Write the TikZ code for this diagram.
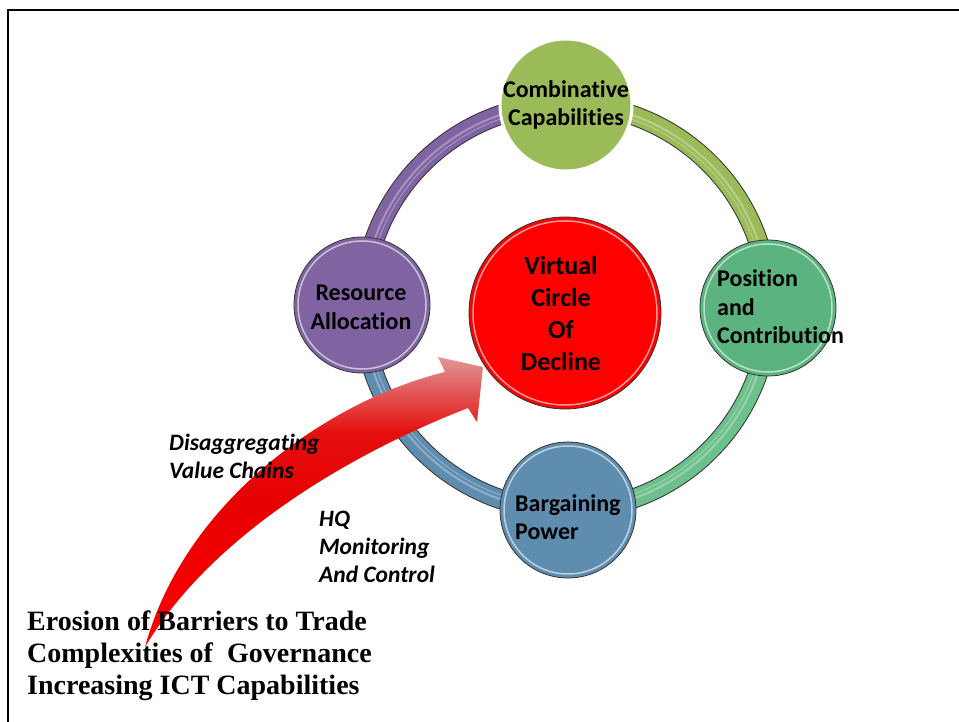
\documentclass[tikz,border=0pt]{standalone}
\usepackage{fontspec}
\setmainfont{Carlito}[Ligatures=NoCommon]
\newfontfamily\serifb{Liberation Serif}
\definecolor{purp}{HTML}{8064A2}
\definecolor{olive}{HTML}{9BBB59}
\definecolor{grn}{HTML}{5BB37F}
\definecolor{grnring}{HTML}{6CC08B}
\definecolor{blu}{HTML}{5F8DB0}
\definecolor{arrowtop}{RGB}{225,150,150}
\definecolor{arrowmid}{RGB}{230,0,0}
\pgfdeclareverticalshading{arrowshade}{100bp}{color(0bp)=(red); color(25bp)=(red); color(50bp)=(arrowmid); color(62bp)=(arrowmid!90!arrowtop); color(75bp)=(arrowtop); color(100bp)=(arrowtop)}
\newcommand\ringseg[3]{%
  \draw[line width=20pt, black!80] ([shift={(#1:203)}]rc) arc[start angle=#1,end angle=#2,radius=203];
  \draw[line width=18pt, #3] ([shift={(#1:203)}]rc) arc[start angle=#1,end angle=#2,radius=203];
  \draw[line width=2pt, white, opacity=.3] ([shift={(#1:203)}]rc) arc[start angle=#1,end angle=#2,radius=203];
  \draw[line width=1pt, white, opacity=.3] ([shift={(#1:199)}]rc) arc[start angle=#1,end angle=#2,radius=199];
}
\tikzset{
  ball/.style={circle, inner sep=0pt, draw=black!80, line width=0.8pt},
  lbl/.style={inner sep=0pt, font=\fontsize{24}{28.5}\selectfont\bfseries},
  biglbl/.style={inner sep=0pt, font=\fontsize{26}{32}\selectfont\bfseries, align=center},
  ital/.style={inner sep=0pt, font=\fontsize{23.5}{28}\selectfont\bfseries\itshape, align=left, anchor=west},
  serlbl/.style={inner sep=0pt, font=\serifb\fontsize{28}{32}\selectfont\bfseries, align=left, anchor=west}
}
\begin{document}
\begin{tikzpicture}[x=1pt,y=1pt]
\useasboundingbox (0,0) rectangle (959,722);
\fill[white] (0,0) rectangle (959,722);
\draw[line width=2pt] (8,0) -- (8,712) -- (959,712);
\coordinate (rc) at (566,415);
\ringseg{180}{90}{purp}
\ringseg{90}{0}{olive}
\ringseg{0}{-90}{grnring}
\ringseg{-90}{-180}{blu}
% nodes
\node[ball, fill=olive, draw=white, line width=3pt, minimum size=132pt] (comb) at (566,617) {};
\node[ball, fill=purp, minimum size=136pt] (res) at (362,417) {};
\node[ball, fill=grn, minimum size=136pt] (pos) at (768,414) {};
\node[ball, fill=blu, minimum size=136pt] (barg) at (568,212) {};
\node[ball, fill=red, minimum size=192pt] (dec) at (565,409) {};
\foreach \n/\r in {res/64,pos/64,barg/64,dec/92}
  \draw[white, opacity=.6, line width=1.5pt] (\n.center) circle[radius=\r];
% arrow
\shade[shading=arrowshade]
  (145,75) .. controls (185,222) and (330,322) .. (445,350) -- (438,365) -- (483,355)
  -- (477,300) -- (468,314) .. controls (360,272) and (215,192) .. (145,75) -- cycle;
% texts
\node[lbl, align=center] (tcomb) at (566,617) {Combinative\\Capabilities};
\node[lbl, align=center] (tres) at (361,414.5) {Resource\\Allocation};
\node[lbl, align=left, anchor=west] (tpos) at (717,415) {Position\\and\\Contribution};
\node[lbl, align=left, anchor=west] (tbarg) at (515,205) {Bargaining\\Power};
\node[biglbl] (tdec) at (561,409) {Virtual\\Circle\\Of\\Decline};
\node[ital] (tdis) at (169,266) {Disaggregating\\Value Chains};
\node[ital] (thq) at (319,175) {HQ\\Monitoring\\And Control};
\node[serlbl] (tbot) at (27,66) {Erosion of Barriers to Trade\\Complexities of\ \ Governance\\Increasing ICT Capabilities};
\end{tikzpicture}
\end{document}
